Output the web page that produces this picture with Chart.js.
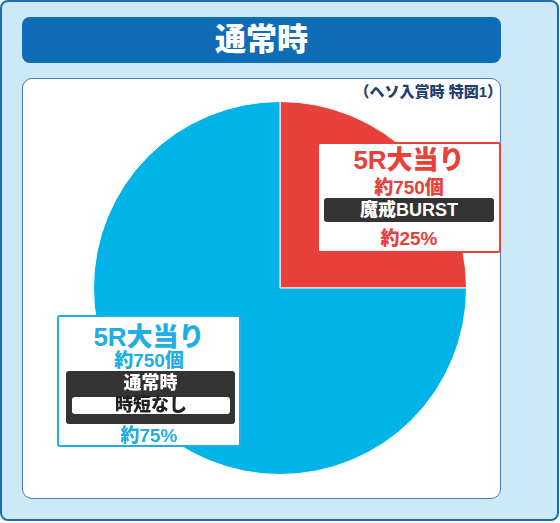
<!DOCTYPE html>
<html>
<head>
<meta charset="utf-8">
<script src="https://cdn.jsdelivr.net/npm/chart.js@4"></script>
<style>
  html, body { margin: 0; padding: 0; background: #ffffff; }
  body { width: 560px; height: 523px; position: relative; overflow: hidden;
         font-family: "Liberation Sans", "Noto Sans CJK JP", sans-serif; font-weight: 900; }
  .frame { position: absolute; left: 0px; top: 0px; width: 555px; height: 517px;
           background: #cde9f8; border: 2px solid #1a6db5; border-radius: 8px; }
  .header { position: absolute; left: 22px; top: 17px; width: 479px; height: 46px;
            background: #0f6cb6; border-radius: 8px; color: #fff; font-size: 31px;
            line-height: 46px; text-align: center; }
  .panel { position: absolute; left: 22px; top: 78px; width: 477px; height: 419px;
           background: #fff; border: 1px solid #4b79be; border-radius: 10px; }
  .note { position: absolute; right: 58px; top: 80px; font-size: 15px; color: #233e70; }
  #wrap { position: absolute; left: 93px; top: 101px; width: 374px; height: 374px; }
  .box { position: absolute; background: #fff; border-radius: 3px; text-align: center; }
  .box div { position: absolute; left: 0; right: 0; text-align: center; }
  .big { font-size: 26px; line-height: 28px; }
  .mid { font-size: 19px; line-height: 22px; }
  .dark { background: #333333; color: #fff; border-radius: 3px; font-size: 18px; }
  .light { background: #fff; color: #222; border-radius: 3px; font-size: 18px; }
</style>
</head>
<body>
<div class="frame"></div>
<div class="header">通常時</div>
<div class="panel"></div>
<div class="note">（ヘソ入賞時 特図1）</div>
<div id="wrap"><canvas id="pie"></canvas></div>

<div class="box" style="left:317px; top:142px; width:180px; height:107px; border:2px solid #e8413a; color:#e8413a;">
  <div class="big" style="top:2px;">5R大当り</div>
  <div class="mid" style="top:33px;">約750個</div>
  <div class="dark" style="top:54px; left:5px; right:5px; height:24px; line-height:24px;">魔戒BURST</div>
  <div class="mid" style="top:84px;">約25%</div>
</div>

<div class="box" style="left:57px; top:315px; width:180px; height:128px; border:2px solid #22aee2; color:#22aee2;">
  <div class="big" style="top:6px;">5R大当り</div>
  <div class="mid" style="top:33px;">約750個</div>
  <div class="dark" style="top:54px; left:7px; right:4px; height:53px;">
    <div style="top:1px; line-height:22px;">通常時</div>
    <div class="light" style="top:26px; left:6px; right:5px; height:17px; line-height:17px;">時短なし</div>
  </div>
  <div class="mid" style="top:108px;">約75%</div>
</div>

<script>
var labels = ['5R大当り 魔戒BURST', '5R大当り 通常時 時短なし'];
var values = [25, 75];
var colors = ['#e8413a', '#00b4e8'];

var ctx = document.getElementById('pie').getContext('2d');

var data = {
    labels: labels,
    datasets: [{
        data: values,
        backgroundColor: colors,
        borderColor: '#ffffff',
        borderWidth: 1
    }]
};

var options = {
    responsive: true,
    maintainAspectRatio: false,
    animation: false,
    layout: { padding: 0 },
    plugins: {
        legend: { display: false },
        tooltip: { enabled: false }
    }
};

var myPie = new Chart(ctx, {
    type: 'pie',
    data: data,
    options: options
});
</script>
</body>
</html>
